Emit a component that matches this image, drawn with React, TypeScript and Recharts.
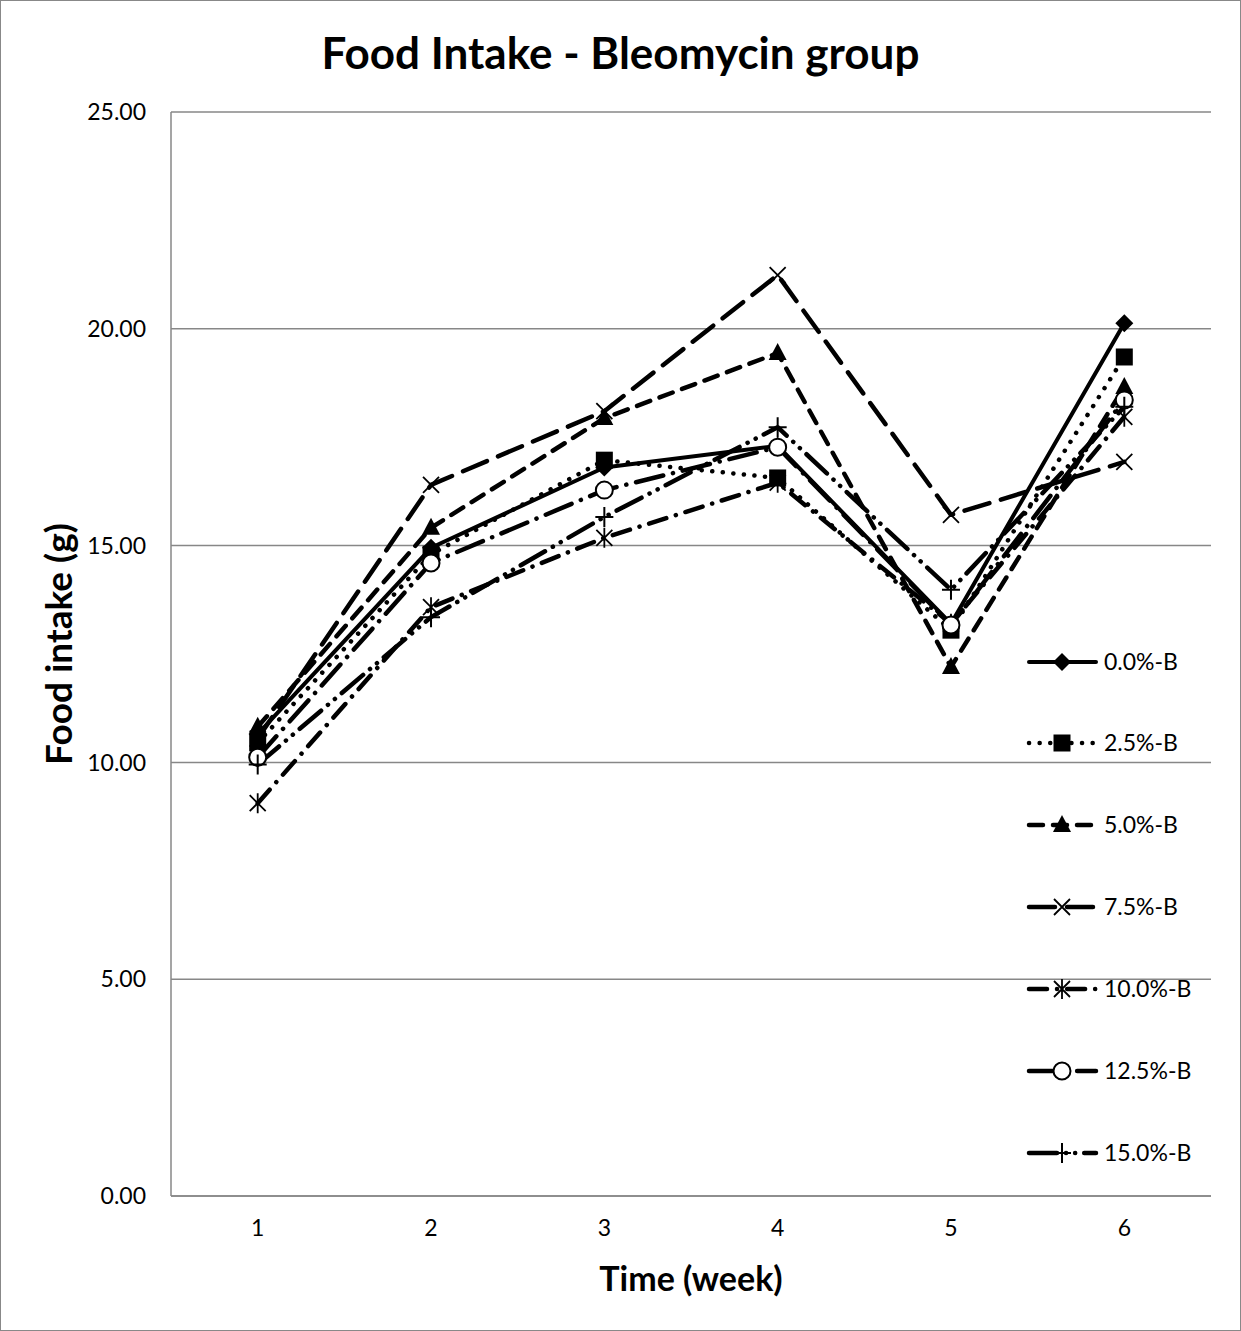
import React from 'react';
import { LineChart, Line, XAxis, YAxis, CartesianGrid } from 'recharts';

const weeks = ['1', '2', '3', '4', '5', '6'];
const yTicks = [0, 5, 10, 15, 20, 25];

const b00 = [10.65, 14.95, 16.8, 17.3, 13.2, 20.13];
const b25 = [10.45, 14.8, 16.97, 16.56, 13.05, 19.35];
const b50 = [10.82, 15.41, 17.94, 19.44, 12.2, 18.66];
const b75 = [10.55, 16.4, 18.1, 21.24, 15.71, 16.93];
const b100 = [9.06, 13.58, 15.18, 16.45, 13.2, 17.97];
const b125 = [10.12, 14.6, 16.28, 17.27, 13.17, 18.36];
const b150 = [9.95, 13.35, 15.66, 17.73, 13.98, 18.2];

type Shape = 'diamond' | 'square' | 'triangle' | 'x' | 'asterisk' | 'circle' | 'plus';

const series: { key: string; name: string; values: number[]; shape: Shape; dash?: string; width: number }[] = [
  { key: 'b00', name: '0.0%-B', values: b00, shape: 'diamond', width: 4 },
  { key: 'b25', name: '2.5%-B', values: b25, shape: 'square', dash: '0.1 10.5', width: 4.5 },
  { key: 'b50', name: '5.0%-B', values: b50, shape: 'triangle', dash: '14 10', width: 4.5 },
  { key: 'b75', name: '7.5%-B', values: b75, shape: 'x', dash: '26 12', width: 4.5 },
  { key: 'b100', name: '10.0%-B', values: b100, shape: 'asterisk', dash: '18 10 0.1 10', width: 4.5 },
  { key: 'b125', name: '12.5%-B', values: b125, shape: 'circle', dash: '28 10 0.1 10', width: 4.5 },
  { key: 'b150', name: '15.0%-B', values: b150, shape: 'plus', dash: '28 9 0.1 9 0.1 9', width: 4.5 },
];

const data = weeks.map((w, i) => {
  const row: Record<string, string | number> = { week: w };
  series.forEach((s) => (row[s.key] = s.values[i]));
  return row;
});

const FONT = 'Lato, "Open Sans", sans-serif';
const GRID = '#878787';

const Marker = ({ shape, cx, cy }: { shape: Shape; cx: number; cy: number }) => {
  switch (shape) {
    case 'diamond':
      return <polygon points={`${cx},${cy - 9} ${cx + 9},${cy} ${cx},${cy + 9} ${cx - 9},${cy}`} fill="#000" />;
    case 'square':
      return <rect x={cx - 8.5} y={cy - 8.5} width={17} height={17} fill="#000" />;
    case 'triangle':
      return <polygon points={`${cx},${cy - 10} ${cx + 9},${cy + 7} ${cx - 9},${cy + 7}`} fill="#000" />;
    case 'x':
      return (
        <path d={`M${cx - 8},${cy - 8}L${cx + 8},${cy + 8}M${cx + 8},${cy - 8}L${cx - 8},${cy + 8}`} stroke="#000" strokeWidth={1.8} fill="none" />
      );
    case 'asterisk':
      return (
        <path
          d={`M${cx - 8},${cy - 8}L${cx + 8},${cy + 8}M${cx + 8},${cy - 8}L${cx - 8},${cy + 8}M${cx},${cy - 10}L${cx},${cy + 10}`}
          stroke="#000"
          strokeWidth={1.8}
          fill="none"
        />
      );
    case 'circle':
      return <circle cx={cx} cy={cy} r={8.5} fill="#fff" stroke="#000" strokeWidth={2} />;
    case 'plus':
      return <path d={`M${cx - 9},${cy}L${cx + 9},${cy}M${cx},${cy - 10}L${cx},${cy + 10}`} stroke="#000" strokeWidth={2} fill="none" />;
  }
  return null;
};

const legendTop = [662, 743, 825, 907, 989, 1071, 1153];

export default function App() {
  return (
    <div style={{ position: 'absolute', left: 0, top: 0, width: 1241, height: 1331, background: '#fff', fontFamily: FONT }}>
      <div style={{ position: 'absolute', left: 0, top: 0, width: 1239, height: 1329, border: '1px solid #888' }} />
      <LineChart width={1241} height={1331} data={data} margin={{ top: 112, right: 30, bottom: 0, left: 0 }}>
        <CartesianGrid vertical={false} stroke={GRID} strokeWidth={1.5} />
        <XAxis
          dataKey="week"
          height={135}
          padding={{ left: 86.7, right: 86.7 }}
          tickLine={false}
          tickSize={0}
          tickMargin={24}
          stroke={GRID}
          strokeWidth={1.5}
          tick={{ fill: '#000', fontSize: 23, fontFamily: FONT }}
        />
        <YAxis
          width={171}
          domain={[0, 25]}
          ticks={yTicks}
          interval={0}
          tickLine={false}
          tickSize={0}
          tickMargin={25}
          stroke={GRID}
          strokeWidth={1.5}
          tickFormatter={(v: number) => v.toFixed(2)}
          tick={{ fill: '#000', fontSize: 23, fontFamily: FONT }}
        />
        {series.map((s) => (
          <Line
            key={s.key}
            dataKey={s.key}
            name={s.name}
            type="linear"
            stroke="#000"
            strokeWidth={s.width}
            strokeDasharray={s.dash}
            strokeLinecap="round"
            strokeLinejoin="round"
            isAnimationActive={false}
            dot={(p: any) => <Marker key={`${s.key}-${p.index}`} shape={s.shape} cx={p.cx} cy={p.cy} />}
            activeDot={false}
          />
        ))}
      </LineChart>
      <div style={{ position: 'absolute', left: 0, top: 24, width: 1241, textAlign: 'center', fontSize: 44, fontWeight: 700, lineHeight: '56px' }}>
        Food Intake - Bleomycin group
      </div>
      <div style={{ position: 'absolute', left: 171, top: 1257, width: 1040, textAlign: 'center', fontSize: 34, fontWeight: 700, lineHeight: '42px' }}>
        Time (week)
      </div>
      <div
        style={{
          position: 'absolute',
          left: 58,
          top: 644,
          transform: 'translate(-50%, -50%) rotate(-90deg)',
          whiteSpace: 'nowrap',
          fontSize: 37,
          fontWeight: 700,
          lineHeight: '44px',
        }}
      >
        Food intake (g)
      </div>
      <svg style={{ position: 'absolute', left: 0, top: 0 }} width={1241} height={1331}>
        {series.map((s, i) => {
          const y = legendTop[i];
          return (
            <g key={s.key}>
              <line
                x1={1029}
                x2={1096}
                y1={y}
                y2={y}
                stroke="#000"
                strokeWidth={s.width}
                strokeDasharray={s.dash}
                strokeLinecap="round"
              />
              <Marker shape={s.shape} cx={1062} cy={y} />
              <text x={1104} y={y} dy="0.36em" fontSize={23} fontFamily={FONT} fill="#000">
                {s.name}
              </text>
            </g>
          );
        })}
      </svg>
    </div>
  );
}
